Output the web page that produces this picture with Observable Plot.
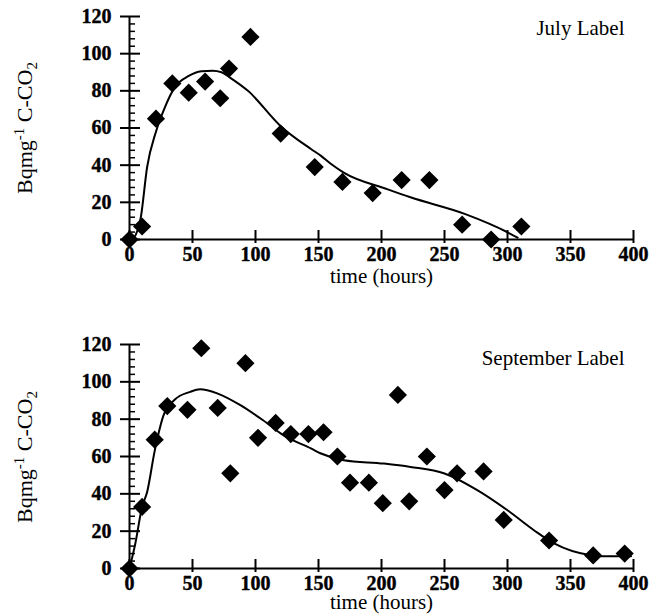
<!DOCTYPE html>
<html><head><meta charset="utf-8">
<script src="https://cdn.jsdelivr.net/npm/d3@7"></script>
<script src="https://cdn.jsdelivr.net/npm/@observablehq/plot@0.6"></script>
<style>
html,body{margin:0;background:#fff}
#wrap{position:relative;width:649px;height:614px}
#chart svg{display:block}
.ylab{position:absolute;left:25px;white-space:nowrap;font-family:'Liberation Serif','Times New Roman',serif;font-size:22px;color:#000;line-height:1;transform:translate(-50%,-50%) rotate(-90deg)}
.ylab sup,.ylab sub{font-size:15px;line-height:0}
</style>
</head><body><div id="wrap"><div id="chart"></div></div>
<script>
// July label: observations
const julyTime = [0,10,21,34,47,60,72,79,96,120,147,169,193,216,238,264,287,311];
const julyFlux = [0,7,65,84,79,85,76,92,109,57,39,31,25,32,32,8,0,7];
// July label: fitted curve
const julyFitTime = [3,9,14,21,28,36,47,57,66,73,80,94,120,144,152,160,170,205,223,266,300,308];
const julyFitFlux = [0,12,39,58,71,82,88,90.5,90.8,90,87,80,61,48.7,45,40.6,36,27,22.7,13.8,3.9,1];
// September label: observations
const sepTime = [0,10,20,30,46,57,70,80,92,102,116,128,142,154,165,175,190,201,213,222,236,250,260,281,297,333,368,393];
const sepFlux = [0,33,69,87,85,118,86,51,110,70,78,72,72,73,60,46,46,35,93,36,60,42,51,52,26,15,7,8];
// September label: fitted curve
const sepFitTime = [0,4.5,10,14,20,27,36,48,56,70,88,106,122,144,152,170,202,223,250,276,300,321,337,366,374,398];
const sepFitFlux = [0,13,33,41,63,82,90.5,94.6,96,93.7,87.5,79.4,71.4,64.3,61.6,58,56.2,54.4,50.9,42,31.2,20.5,13.4,7.1,6.6,6.6];
// ticks and labels
const xTicks = [0,50,100,150,200,250,300,350,400];
const yTicks = [0,20,40,60,80,100,120];
const yMinorTicks = [4,8,12,16,24,28,32,36,44,48,52,56,64,68,72,76,84,88,92,96,104,108,112,116];
const xTitle = "time (hours)";
const titles = ["July Label", "September Label"];

const serif = "'Liberation Serif','Times New Roman',serif";
const W = 649, ML = 129, MR = 16;
const frameW = W - ML - MR;

function panel(time, flux, fitTime, fitFlux, title, height, marginTop, marginBottom, titleDy, xLabelDy) {
  const obs = time.map((t, i) => ({t, v: flux[i]}));
  const fit = fitTime.map((t, i) => ({t, v: fitFlux[i]}));
  const frameH = height - marginTop - marginBottom;
  return Plot.plot({
    width: W, height: height, marginTop: marginTop, marginBottom: marginBottom, marginLeft: ML, marginRight: MR,
    style: {fontFamily: serif, background: "#fff", color: "#000"},
    x: {domain: [0, 400], axis: null},
    y: {domain: [0, 120], axis: null},
    marks: [
      // y axis: major ticks crossing the axis, minor ticks inside
      Plot.tickY(yTicks, {y: d => d, dx: -9, insetRight: frameW - 20, stroke: "black", strokeWidth: 2}),
      Plot.tickY(yMinorTicks, {y: d => d, insetRight: frameW - 6, stroke: "black", strokeWidth: 1.5}),
      Plot.text(yTicks, {y: d => d, text: d => String(d), frameAnchor: "left", textAnchor: "end", dx: -18, fontSize: 20, fontWeight: "bold", fill: "black", stroke: "black", strokeWidth: 0.4}),
      // x axis: ticks crossing the axis
      Plot.tickX(xTicks, {x: d => d, insetTop: frameH - 13, dy: 4, stroke: "black", strokeWidth: 2}),
      Plot.text(xTicks, {x: d => d, text: d => String(d), frameAnchor: "bottom", lineAnchor: "top", dy: 7, fontSize: 20, fontWeight: "bold", fill: "black", stroke: "black", strokeWidth: 0.4}),
      // axis lines
      Plot.ruleY([0], {stroke: "black", strokeWidth: 2}),
      Plot.ruleX([0], {stroke: "black", strokeWidth: 2}),
      // data
      Plot.line(fit, {x: "t", y: "v", curve: "monotone-x", stroke: "black", strokeWidth: 2}),
      Plot.dot(obs, {x: "t", y: "v", symbol: "diamond2", r: 8.2, fill: "black", stroke: "none"}),
      // titles
      Plot.text([title], {text: d => d, frameAnchor: "top-right", dx: -9, dy: titleDy, lineAnchor: "top", textAnchor: "end", fontSize: 21, fill: "black"}),
      Plot.text([xTitle], {text: d => d, x: [200], frameAnchor: "bottom", dy: xLabelDy, fontSize: 21, fill: "black"})
    ]
  });
}

const chart = document.getElementById("chart");
chart.append(panel(julyTime, julyFlux, julyFitTime, julyFitFlux, titles[0], 300, 16, 61, 4, 43));
chart.append(panel(sepTime, sepFlux, sepFitTime, sepFitFlux, titles[1], 314, 44, 46, 6, 40));

// rotated y-axis titles (HTML text with superscript and subscript)
const wrap = document.getElementById("wrap");
[128, 457].forEach(cy => {
  const d = document.createElement("div");
  d.className = "ylab";
  d.style.top = cy + "px";
  d.innerHTML = "Bqmg<sup>-1</sup> C-CO<sub>2</sub>";
  wrap.append(d);
});
</script>
</body></html>
